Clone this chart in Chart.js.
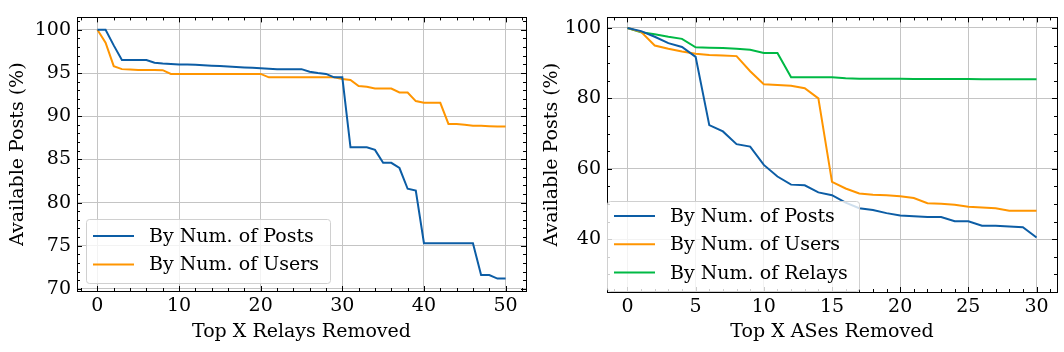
<!DOCTYPE html>
<html lang="en">
<head>
<meta charset="UTF-8">
<title>Available posts</title>
<script src="https://cdn.jsdelivr.net/npm/chart.js@4.4.0/dist/chart.umd.min.js"></script>
<style>
    body { margin: 0; background: #fff; }
    .subplot { float: left; width: 532px; height: 352px; position: relative; }
</style>
</head>
<body>
<div class="subplot"><canvas id="chart1"></canvas></div>
<div class="subplot"><canvas id="chart2"></canvas></div>
<script>
// left panel: top X relays removed
const relaysRemoved = [0,1,2,3,4,5,6,7,8,9,10,11,12,13,14,15,16,17,18,19,20,21,22,23,24,25,
    26,27,28,29,30,31,32,33,34,35,36,37,38,39,40,41,42,43,44,45,46,47,48,49,50];
const relayByPosts = [100,100,98.2,96.5,96.5,96.5,96.5,96.2,96.1,96.05,96.0,96.0,95.95,95.9,95.85,95.8,
    95.75,95.7,95.65,95.6,95.55,95.5,95.45,95.45,95.45,95.45,95.15,95.0,94.9,94.5,94.5,
    86.4,86.4,86.4,86.1,84.6,84.6,84.0,81.6,81.4,75.3,75.3,75.3,75.3,75.3,75.3,75.3,
    71.6,71.6,71.2,71.2];
const relayByUsers = [100,98.5,95.8,95.45,95.4,95.35,95.35,95.35,95.33,94.9,94.9,94.9,94.9,94.9,94.9,
    94.9,94.9,94.9,94.9,94.9,94.9,94.5,94.5,94.5,94.5,94.5,94.5,94.5,94.5,94.5,94.3,
    94.2,93.5,93.4,93.2,93.2,93.2,92.75,92.75,91.75,91.55,91.55,91.55,89.1,89.1,89.0,
    88.9,88.9,88.85,88.8,88.8];
const leftXTicks = [0,10,20,30,40,50];
const leftYTicks = [70,75,80,85,90,95,100];

// right panel: top X ASes removed
const asesRemoved = [0,1,2,3,4,5,6,7,8,9,10,11,12,13,14,15,16,17,18,19,20,21,22,23,24,25,26,27,28,29,30];
const asByPosts = [100,99.1,97.5,95.7,94.6,91.8,72.4,70.6,67.0,66.3,61.1,57.8,55.5,55.3,53.3,52.5,
    50.4,48.8,48.3,47.4,46.7,46.5,46.3,46.3,45.1,45.1,43.8,43.8,43.6,43.4,40.5];
const asByUsers = [100,98.9,95.0,94.1,93.3,92.7,92.3,92.2,92.0,87.7,84.0,83.8,83.6,82.9,80.0,56.3,
    54.4,53.0,52.6,52.5,52.2,51.7,50.2,50.1,49.8,49.2,49.0,48.8,48.1,48.1,48.1];
const asByRelays = [100,98.8,98.2,97.5,96.9,94.5,94.4,94.3,94.1,93.8,92.9,92.9,86.0,86.0,86.0,86.0,
    85.7,85.6,85.6,85.6,85.6,85.5,85.5,85.5,85.5,85.5,85.4,85.4,85.4,85.4,85.4];
const rightXTicks = [0,5,10,15,20,25,30];
const rightYTicks = [40,60,80,100];

const BLUE = '#0C5DA5', ORANGE = '#FF9500', GREEN = '#00B945';
const FONT = 'DejaVu Serif';
const FS = 19;

function toPoints(xs, ys) {
    return xs.map((x, i) => ({x: x, y: ys[i]}));
}

// inward ticks on all four sides + black frame, like the matplotlib science style
const frameTicks = {
    id: 'frameTicks',
    afterDatasetsDraw(chart, args, opts) {
        const ctx = chart.ctx;
        const a = chart.chartArea;
        const sx = chart.scales.x, sy = chart.scales.y;
        ctx.save();
        ctx.strokeStyle = '#000';
        ctx.lineWidth = 1;
        const line = (x1, y1, x2, y2) => {
            ctx.beginPath(); ctx.moveTo(x1, y1); ctx.lineTo(x2, y2); ctx.stroke();
        };
        const xmin = Math.ceil(sx.min / opts.xMinor) * opts.xMinor;
        for (let v = xmin; v <= sx.max; v += opts.xMinor) {
            const px = Math.round(sx.getPixelForValue(v)) + 0.5;
            const len = opts.xMajor.includes(v) ? 5 : 3;
            line(px, a.bottom, px, a.bottom - len);
            line(px, a.top, px, a.top + len);
        }
        const ymin = Math.ceil(sy.min / opts.yMinor) * opts.yMinor;
        for (let v = ymin; v <= sy.max; v += opts.yMinor) {
            const py = Math.round(sy.getPixelForValue(v)) + 0.5;
            const len = opts.yMajor.includes(v) ? 5 : 3;
            line(a.left, py, a.left + len, py);
            line(a.right, py, a.right - len, py);
        }
        ctx.strokeRect(Math.round(a.left) + 0.5, Math.round(a.top) + 0.5,
            Math.round(a.right - a.left), Math.round(a.bottom - a.top));
        ctx.restore();
    }
};

// legend box drawn inside the plot area
const innerLegend = {
    id: 'innerLegend',
    afterDraw(chart, args, opts) {
        const ctx = chart.ctx;
        const sets = chart.data.datasets;
        ctx.save();
        ctx.fillStyle = 'rgba(255,255,255,0.8)';
        ctx.strokeStyle = '#d0d0d0';
        ctx.lineWidth = 1;
        ctx.beginPath();
        ctx.roundRect(opts.x + 0.5, opts.y + 0.5, opts.w, opts.h, 3);
        ctx.fill();
        ctx.stroke();
        ctx.font = FS + 'px "' + FONT + '"';
        ctx.textBaseline = 'middle';
        sets.forEach((ds, i) => {
            const y = opts.y + opts.first + i * opts.step;
            ctx.strokeStyle = ds.borderColor;
            ctx.lineWidth = 2;
            ctx.beginPath();
            ctx.moveTo(opts.x + 7, y);
            ctx.lineTo(opts.x + 48, y);
            ctx.stroke();
            ctx.fillStyle = '#000';
            ctx.fillText(ds.label, opts.x + 63, y + 1);
        });
        ctx.restore();
    }
};

function makeChart(canvas, cfg) {
    return new Chart(canvas, {
        type: 'line',
        data: {datasets: cfg.datasets},
        options: {
            responsive: true,
            maintainAspectRatio: false,
            animation: false,
            layout: {padding: {left: 0, right: cfg.padRight, top: 7, bottom: 0}},
            elements: {point: {radius: 0}, line: {borderWidth: 2, tension: 0}},
            plugins: {
                legend: {display: false},
                tooltip: {enabled: false},
                frameTicks: cfg.ticks,
                innerLegend: cfg.legend
            },
            scales: {
                x: {
                    type: 'linear',
                    min: cfg.xMin, max: cfg.xMax,
                    afterBuildTicks: s => { s.ticks = cfg.xTicks.map(v => ({value: v})); },
                    afterFit: s => { s.height = cfg.xHeight; },
                    grid: {color: '#c4c4c4', drawTicks: false},
                    border: {display: false},
                    ticks: {color: '#000', padding: 4, maxRotation: 0, font: {family: FONT, size: FS}},
                    title: {display: true, text: cfg.xTitle, color: '#000',
                        font: {family: FONT, size: FS}, padding: {top: 0, bottom: 9}}
                },
                y: {
                    min: cfg.yMin, max: cfg.yMax,
                    afterBuildTicks: s => { s.ticks = cfg.yTicks.map(v => ({value: v})); },
                    afterFit: s => { s.width = cfg.yWidth; },
                    grid: {color: '#c4c4c4', drawTicks: false},
                    border: {display: false},
                    ticks: {color: '#000', padding: 6, font: {family: FONT, size: FS}},
                    title: {display: true, text: 'Available Posts (%)', color: '#000',
                        font: {family: FONT, size: FS}, padding: {top: cfg.yTitlePad, bottom: 0}}
                }
            }
        },
        plugins: [frameTicks, innerLegend]
    });
}

makeChart(document.getElementById('chart1'), {
    datasets: [
        {label: 'By Num. of Posts', data: toPoints(relaysRemoved, relayByPosts), borderColor: BLUE},
        {label: 'By Num. of Users', data: toPoints(relaysRemoved, relayByUsers), borderColor: ORANGE}
    ],
    xMin: -2.5, xMax: 52.5, yMin: 69.76, yMax: 101.44,
    xTicks: leftXTicks, yTicks: leftYTicks,
    xTitle: 'Top X Relays Removed',
    padRight: 6, xHeight: 61, yWidth: 77, yTitlePad: 7,
    ticks: {xMinor: 2, yMinor: 1, xMajor: leftXTicks, yMajor: leftYTicks},
    legend: {x: 86, y: 219, w: 244, h: 64, first: 17, step: 28.5}
});

makeChart(document.getElementById('chart2'), {
    datasets: [
        {label: 'By Num. of Posts', data: toPoints(asesRemoved, asByPosts), borderColor: BLUE},
        {label: 'By Num. of Users', data: toPoints(asesRemoved, asByUsers), borderColor: ORANGE},
        {label: 'By Num. of Relays', data: toPoints(asesRemoved, asByRelays), borderColor: GREEN}
    ],
    xMin: -1.5, xMax: 31.5, yMin: 25, yMax: 103,
    xTicks: rightXTicks, yTicks: rightYTicks,
    xTitle: 'Top X ASes Removed',
    padRight: 7, xHeight: 60, yWidth: 75, yTitlePad: 9,
    ticks: {xMinor: 1, yMinor: 5, xMajor: rightXTicks, yMajor: rightYTicks},
    legend: {x: 75, y: 201, w: 252, h: 90, first: 15, step: 28.3}
});
</script>
</body>
</html>
